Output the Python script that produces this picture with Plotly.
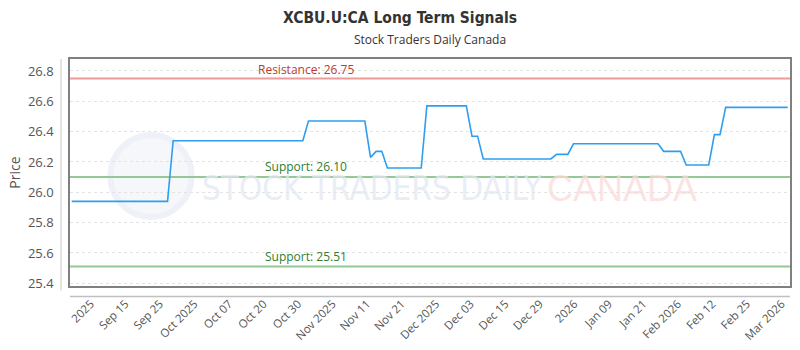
import plotly.graph_objects as go
import numpy as np

# ---- data ----
prices = [
    25.94, 25.94, 25.94, 25.94, 25.94, 25.94, 25.94, 25.94, 25.94, 25.94,
    25.94, 25.94, 25.94, 25.94, 25.94, 25.94, 25.94, 25.94,
    26.34, 26.34, 26.34, 26.34, 26.34, 26.34, 26.34, 26.34, 26.34, 26.34,
    26.34, 26.34, 26.34, 26.34, 26.34, 26.34, 26.34, 26.34, 26.34, 26.34,
    26.34, 26.34, 26.34, 26.34,
    26.47, 26.47, 26.47, 26.47, 26.47, 26.47, 26.47, 26.47, 26.47, 26.47, 26.47,
    26.23,
    26.27, 26.27,
    26.16, 26.16, 26.16, 26.16, 26.16, 26.16, 26.16,
    26.57, 26.57, 26.57, 26.57, 26.57, 26.57, 26.57, 26.57,
    26.37, 26.37,
    26.22, 26.22, 26.22, 26.22, 26.22, 26.22, 26.22, 26.22, 26.22, 26.22,
    26.22, 26.22, 26.22,
    26.25, 26.25, 26.25,
    26.32, 26.32, 26.32, 26.32, 26.32, 26.32, 26.32, 26.32, 26.32, 26.32,
    26.32, 26.32, 26.32, 26.32, 26.32, 26.32,
    26.27, 26.27, 26.27, 26.27,
    26.18, 26.18, 26.18, 26.18, 26.18,
    26.38, 26.38,
    26.56, 26.56, 26.56, 26.56, 26.56, 26.56, 26.56, 26.56, 26.56, 26.56,
    26.56, 26.56,
]
x_idx = list(range(len(prices)))

tick_labels = ["2025", "Sep 15", "Sep 25", "Oct 2025", "Oct 07", "Oct 20", "Oct 30",
               "Nov 2025", "Nov 11", "Nov 21", "Dec 2025", "Dec 03", "Dec 15", "Dec 29",
               "2026", "Jan 09", "Jan 21", "Feb 2026", "Feb 12", "Feb 25", "Mar 2026"]
tick_first, tick_last = 3.4, 125.9
tick_vals = list(np.linspace(tick_first, tick_last, len(tick_labels)))

resistance_levels = [26.75]
support_levels = [26.10, 25.51]

y_ticks = [25.4, 25.6, 25.8, 26.0, 26.2, 26.4, 26.6, 26.8]

FONT = "Open Sans"
fig = go.Figure()

fig.add_trace(go.Scatter(
    x=x_idx, y=prices, mode="lines",
    line=dict(color="#2f9ef0", width=1.6),
    hoverinfo="skip", showlegend=False,
))

shapes = []
annotations = []

# watermark
shapes.append(dict(type="circle", xref="paper", yref="paper", x0=0.056, x1=0.169, y0=0.304, y1=0.665,
                   line=dict(color="#eef1f7", width=6), fillcolor="rgba(238,241,247,0.6)", layer="below"))
annotations.append(dict(xref="paper", yref="paper", x=(200 - 70) / 720, y=0.43, xanchor="left", yanchor="middle",
                        text="STOCK TRADERS DAILY", showarrow=False,
                        font=dict(family="DejaVu Sans Condensed", size=33, color="rgba(226,231,241,0.75)")))
annotations.append(dict(xref="paper", yref="paper", x=(545 - 70) / 720, y=0.43, xanchor="left", yanchor="middle",
                        text="CANADA", showarrow=False,
                        font=dict(family="Liberation Sans", size=36, color="rgba(252,218,218,0.75)")))

LABEL_X = (306 - 70) / 720
for lvl in resistance_levels:
    shapes.append(dict(type="line", xref="paper", x0=0, x1=1, yref="y", y0=lvl, y1=lvl,
                       line=dict(color="#ef9a9a", width=2), layer="below"))
    annotations.append(dict(xref="paper", x=LABEL_X, xanchor="center", yref="y", y=lvl, yanchor="bottom",
                            text=f"Resistance: {lvl:.2f}", showarrow=False,
                            font=dict(family=FONT, size=12, color="#c0392b"), yshift=-1))
for lvl in support_levels:
    shapes.append(dict(type="line", xref="paper", x0=0, x1=1, yref="y", y0=lvl, y1=lvl,
                       line=dict(color="#94c894", width=2), layer="below"))
    annotations.append(dict(xref="paper", x=LABEL_X, xanchor="center", yref="y", y=lvl, yanchor="bottom",
                            text=f"Support: {lvl:.2f}", showarrow=False,
                            font=dict(family=FONT, size=12, color="#2e7d32"), yshift=0))

# outer offset axis lines
shapes.append(dict(type="line", xref="paper", yref="paper", x0=0, x1=1, y0=-0.046, y1=-0.046,
                   line=dict(color="#c0c0c0", width=1.5)))
shapes.append(dict(type="line", xref="paper", yref="paper", x0=-0.0125, x1=-0.0125, y0=-0.02, y1=1.0,
                   line=dict(color="#c8c8c8", width=1)))

annotations.append(dict(xref="paper", yref="paper", x=0.5, xanchor="center", y=1.0, yshift=9,
                        yanchor="bottom", text="Stock Traders Daily Canada", showarrow=False,
                        font=dict(family=FONT, size=12, color="#333333")))

fig.update_layout(
    width=800, height=350,
    margin=dict(l=70, r=10, t=59, b=64),
    paper_bgcolor="white", plot_bgcolor="white",
    title=dict(text="<b>XCBU.U:CA Long Term Signals</b>", x=0.5, xanchor="center",
               y=0.951, yanchor="middle",
               font=dict(family="DejaVu Sans Condensed", size=15.5, color="#333333")),
    shapes=shapes, annotations=annotations,
    xaxis=dict(range=[-0.3, len(prices) - 1 + 0.41], tickmode="array", tickvals=tick_vals,
               ticktext=tick_labels, tickangle=-45, showgrid=False, zeroline=False,
               showline=True, mirror=True, linecolor="#808080", linewidth=1.5, automargin=False,
               tickfont=dict(family=FONT, size=11.5, color="#555555"), ticklabelstandoff=5),
    yaxis=dict(range=[25.382, 26.879], tickmode="array", tickvals=y_ticks,
               tickformat=".1f", showgrid=True, gridcolor="#e3e3e3", griddash="dot",
               zeroline=False, showline=True, mirror=True, linecolor="#808080", linewidth=1.5,
               automargin=False,
               tickfont=dict(family=FONT, size=13, color="#555555"), ticklabelstandoff=12,
               title=dict(text="Price", font=dict(family=FONT, size=14, color="#555555"), standoff=4)),
)

fig.write_html("out.html")
